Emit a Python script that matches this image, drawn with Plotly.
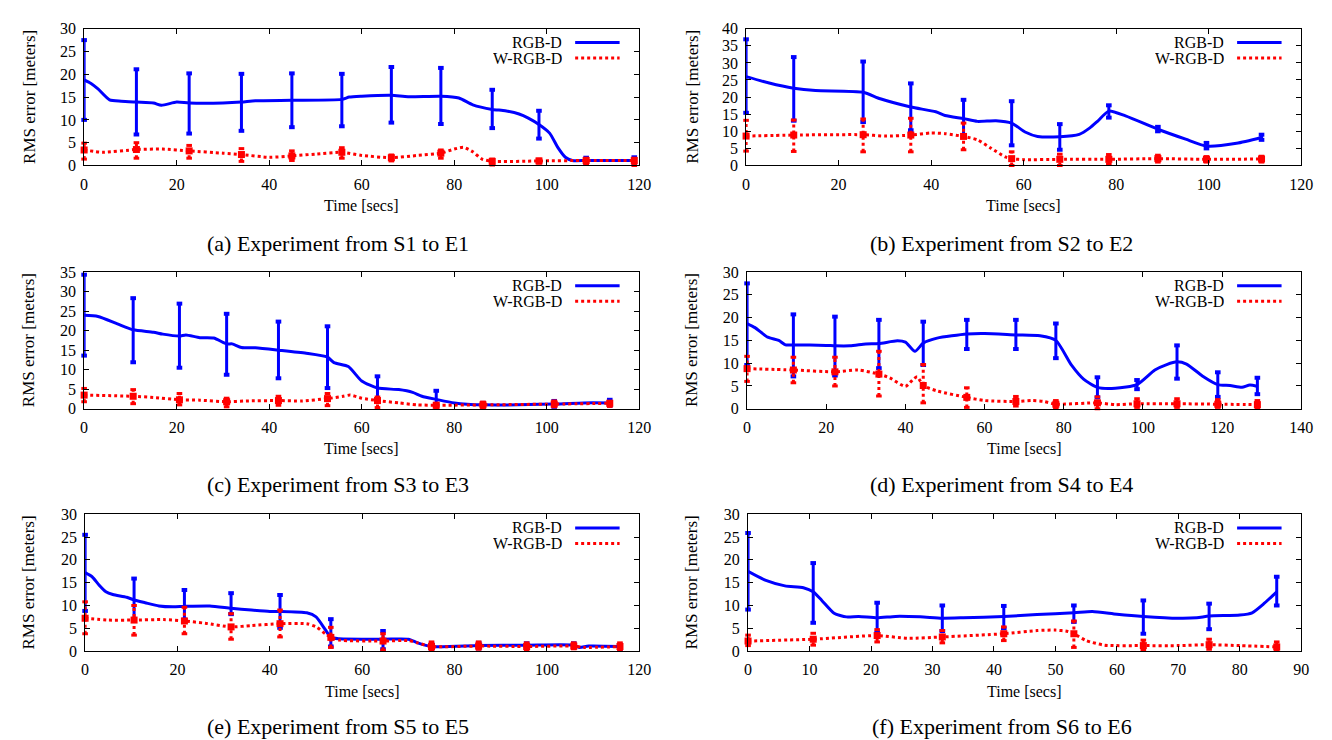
import plotly.graph_objects as go

# ---------------- data ----------------
# (a) S1 -> E1
A_T_BLUE = [0, 1.5, 3, 5.5, 8, 11.3, 15, 16.7, 20, 22.7, 30, 34, 37, 44.9, 55.7, 57.3, 60, 66.4, 70, 77.1, 81, 84, 88.2, 91, 94, 96, 98.3, 100.6, 102.4, 104, 105.5, 108.5, 118.9]
A_BLUE = [18.8, 18, 16.8, 14.4, 14.1, 13.9, 13.7, 13.2, 13.9, 13.7, 13.7, 13.9, 14.2, 14.3, 14.5, 15, 15.2, 15.4, 15.1, 15.2, 14.8, 13.3, 12.3, 12, 11.3, 10.4, 9, 7.1, 3.9, 1.8, 1.1, 1.1, 1.1]
A_T_RED = [0, 4, 11.3, 17, 22.7, 30, 34, 40, 44.9, 50, 55.7, 60, 66.4, 72, 77.1, 80, 82, 84, 86, 88.2, 98.3, 108.5, 118.9]
A_RED = [3.4, 2.9, 3.5, 3.6, 3.2, 2.7, 2.4, 1.8, 2.1, 2.5, 2.9, 2.2, 1.7, 2.2, 2.7, 3.6, 4.0, 3.0, 1.4, 0.9, 1.0, 1.1, 1.1]
A_T_ERR = [0, 11.3, 22.7, 34, 44.9, 55.7, 66.4, 77.1, 88.2, 98.3, 108.5, 118.9]
A_BLUE_HI = [27.5, 21.1, 20.2, 20.1, 20.2, 20.1, 21.6, 21.4, 16.6, 12.0, 1.7, 1.8]
A_BLUE_LO = [10.0, 6.8, 7.0, 7.6, 8.4, 8.6, 9.4, 9.1, 8.2, 5.9, 0.5, 0.3]
A_RED_MID = [3.4, 3.5, 3.2, 2.4, 2.1, 2.9, 1.7, 2.7, 0.9, 1.0, 1.1, 1.1]
A_RED_HI = [4.9, 5.0, 4.4, 3.7, 3.2, 3.9, 2.3, 3.4, 1.4, 1.4, 1.6, 1.6]
A_RED_LO = [1.4, 1.6, 1.6, 0.9, 1.1, 1.6, 1.0, 1.6, 0.1, 0.5, 0.3, 0.0]

# (b) S2 -> E2
B_T_BLUE = [0, 5, 10.3, 15, 25.3, 29, 35.6, 41, 43, 47, 50, 54, 57.4, 60.3, 63, 67.8, 72, 74.3, 76, 78.4, 82, 89, 95, 99.5, 106, 111.4]
B_BLUE = [26, 24.1, 22.6, 21.9, 21.4, 19.5, 17.1, 15.7, 14.6, 13.7, 12.9, 13.1, 12.4, 9.8, 8.5, 8.4, 9.1, 11, 13, 15.9, 14.5, 10.6, 7.7, 5.7, 6.5, 8.2]
B_T_RED = [0, 10.3, 25.3, 30, 35.6, 40, 43, 47, 50, 53, 56, 57.4, 60, 67.8, 78.4, 89, 99.5, 111.4]
B_RED = [8.6, 8.9, 9.0, 8.6, 8.9, 9.5, 9.3, 8.5, 7.5, 5.0, 2.5, 2.0, 1.7, 1.8, 1.8, 2.0, 1.8, 1.9]
B_T_ERR = [0, 10.3, 25.3, 35.6, 47, 57.4, 67.8, 78.4, 89, 99.5, 111.4]
B_BLUE_HI = [36.9, 31.7, 30.4, 24.0, 19.2, 18.8, 12.1, 17.6, 11.3, 6.6, 9.0]
B_BLUE_LO = [15.4, 13.1, 12.7, 10.3, 8.4, 5.9, 4.6, 14.0, 10.0, 5.0, 7.5]
B_RED_MID = [8.6, 8.9, 9.0, 8.9, 8.5, 2.0, 1.8, 1.8, 2.0, 1.8, 1.9]
B_RED_HI = [13.2, 13.3, 13.6, 13.8, 12.4, 4.0, 3.3, 3.2, 3.0, 2.6, 2.7]
B_RED_LO = [4.2, 4.1, 4.0, 4.0, 4.6, 0.0, 0.0, 0.5, 1.0, 1.0, 1.0]

# (c) S3 -> E3
C_T_BLUE = [0, 3, 7.2, 10.6, 15, 17, 20.6, 22, 25, 28, 30.8, 32, 34, 37, 42, 48, 52.6, 54, 57.1, 60, 63.4, 68, 71, 73, 76.1, 80, 86.2, 101.6, 108, 113.6]
C_BLUE = [23.9, 23.6, 21.7, 20.2, 19.6, 19.1, 18.6, 18.9, 18.2, 18.1, 16.6, 16.6, 15.7, 15.6, 15.0, 14.2, 13.2, 11.8, 10.8, 7.1, 5.3, 4.9, 4.2, 3.2, 2.4, 1.5, 1.0, 1.2, 1.5, 1.5]
C_T_RED = [0, 10.6, 15, 20.6, 25, 30.8, 35, 42, 47, 52.6, 56, 57.5, 60, 63.4, 68, 72, 76.1, 86.2, 101.6, 113.6]
C_RED = [3.5, 3.2, 2.9, 2.3, 2.2, 1.8, 2.0, 2.1, 2.0, 2.6, 3.2, 3.5, 2.7, 2.1, 1.5, 1.0, 0.9, 1.0, 1.2, 1.4]
C_T_ERR = [0, 10.6, 20.6, 30.8, 42, 52.6, 63.4, 76.1, 86.2, 101.6, 113.6]
C_BLUE_HI = [34.3, 28.3, 26.9, 24.3, 22.3, 21.1, 8.3, 4.6, 1.5, 2.0, 2.3]
C_BLUE_LO = [13.6, 11.9, 10.5, 8.7, 7.8, 5.3, 2.5, 0.8, 0.5, 0.5, 0.8]
C_RED_MID = [3.5, 3.2, 2.3, 1.8, 2.1, 2.6, 2.1, 0.9, 1.0, 1.2, 1.4]
C_RED_HI = [5.2, 4.9, 3.9, 2.7, 3.2, 3.9, 3.0, 1.4, 1.7, 2.0, 1.9]
C_RED_LO = [1.8, 1.3, 1.0, 0.5, 0.9, 0.8, 0.3, 0.2, 0.3, 0.5, 0.6]

# (d) S4 -> E4
D_T_BLUE = [0, 2, 5.2, 8, 9.7, 11.7, 20, 22.2, 26, 30, 33.3, 38, 40, 42.4, 44.5, 48, 55.5, 60, 67.9, 74, 78, 82, 85, 88.5, 93, 98.5, 103, 106, 108.6, 111, 115, 118.9, 122, 125, 127, 128.9]
D_BLUE = [18.7, 17.8, 15.7, 15.0, 14.0, 14.0, 13.9, 13.8, 13.8, 14.2, 14.3, 14.9, 14.6, 12.6, 14.4, 15.5, 16.4, 16.5, 16.2, 16.0, 15.0, 9.5, 6.5, 4.7, 4.5, 5.3, 8.5, 9.7, 10.3, 9.8, 7.2, 5.3, 5.1, 4.7, 5.2, 4.9]
D_T_RED = [0, 11.7, 22.2, 28, 33.3, 36, 40, 42, 43, 44.5, 48, 55.5, 60, 67.9, 72, 75, 78, 88.5, 93, 98.5, 108.6, 118.9, 128.9]
D_RED = [8.8, 8.5, 8.1, 8.5, 7.6, 6.8, 4.9, 6.5, 7.0, 5.1, 3.9, 2.5, 1.8, 1.6, 1.8, 1.6, 1.0, 1.3, 0.9, 1.1, 1.1, 1.0, 0.9]
D_T_ERR = [0, 11.7, 22.2, 33.3, 44.5, 55.5, 67.9, 78, 88.5, 98.5, 108.6, 118.9, 128.9]
D_BLUE_HI = [27.5, 20.7, 20.2, 19.5, 19.1, 19.5, 19.5, 18.7, 6.9, 6.3, 13.9, 8.0, 6.8]
D_BLUE_LO = [9.6, 7.1, 7.3, 8.9, 9.6, 13.1, 13.1, 11.1, 2.5, 4.3, 6.6, 2.6, 3.2]
D_RED_MID = [8.8, 8.5, 8.1, 7.6, 5.1, 2.5, 1.6, 1.0, 1.3, 1.1, 1.1, 1.0, 0.9]
D_RED_HI = [11.5, 11.3, 11.3, 12.6, 9.7, 4.6, 2.7, 1.8, 2.6, 2.2, 2.2, 2.0, 1.8]
D_RED_LO = [6.0, 5.7, 5.0, 2.8, 1.3, 0.3, 0.6, 0.2, 0.0, 0.3, 0.3, 0.3, 0.2]

# (e) S5 -> E5
E_T_BLUE = [0, 1.5, 3, 4.5, 6, 9, 10.6, 13, 16, 19, 21.5, 27, 31.6, 36, 40, 42.2, 48, 50, 52, 53.2, 55, 64.5, 70, 72, 75, 85.2, 95.6, 105.8, 107, 109, 115.8]
E_BLUE = [17.2, 16.3, 14.5, 13.0, 12.4, 11.8, 11.2, 10.6, 9.9, 9.7, 9.8, 9.9, 9.4, 9.0, 8.7, 8.7, 8.4, 7.5, 4.7, 3.0, 2.7, 2.6, 2.6, 1.8, 1.0, 1.2, 1.3, 1.3, 0.8, 1.1, 1.0]
E_T_RED = [0, 5, 10.6, 17, 21.5, 26, 31.6, 36, 42.2, 48, 50, 52, 53.2, 55, 64.5, 70, 72, 75, 85.2, 95.6, 105.8, 108, 115.8]
E_RED = [7.2, 6.8, 6.8, 6.9, 6.6, 6.1, 5.3, 5.6, 6.0, 6.0, 5.3, 3.8, 3.0, 2.4, 2.2, 2.3, 1.8, 1.0, 1.1, 1.0, 1.1, 0.8, 1.0]
E_T_ERR = [0, 10.6, 21.5, 31.6, 42.2, 53.2, 64.5, 75, 85.2, 95.6, 105.8, 115.8]
E_BLUE_HI = [25.5, 15.9, 13.4, 12.7, 12.3, 7.0, 4.4, 1.6, 1.8, 1.7, 1.7, 1.4]
E_BLUE_LO = [8.8, 6.6, 6.9, 8.1, 5.1, 1.0, 0.4, 0.5, 0.6, 0.7, 0.7, 0.5]
E_RED_MID = [7.2, 6.8, 6.6, 5.3, 6.0, 3.0, 2.2, 1.0, 1.1, 1.0, 1.1, 1.0]
E_RED_HI = [10.8, 10.0, 9.6, 8.2, 9.0, 5.2, 3.8, 2.0, 2.0, 1.8, 1.8, 1.8]
E_RED_LO = [3.8, 3.5, 3.8, 2.6, 3.1, 0.8, 0.2, 0.2, 0.4, 0.3, 0.5, 0.3]

# (f) S6 -> E6
F_T_BLUE = [0, 2.9, 6, 9, 10.6, 12, 14, 16, 18, 21, 24, 28, 31.6, 35, 41.6, 47, 53, 56, 60, 64.3, 70, 73, 75, 80, 82, 84, 86]
F_BLUE = [17.5, 15.5, 14.3, 13.9, 13.0, 11.1, 8.3, 7.5, 7.6, 7.3, 7.6, 7.5, 7.2, 7.3, 7.6, 8.0, 8.4, 8.7, 8.1, 7.6, 7.2, 7.3, 7.7, 7.9, 8.4, 10.5, 13.0]
F_T_RED = [0, 10.6, 21, 26, 31.6, 41.6, 47, 50, 52, 53, 55, 58, 64.3, 70, 75, 80, 86]
F_RED = [2.2, 2.6, 3.4, 2.8, 3.1, 3.8, 4.5, 4.6, 4.3, 3.8, 2.3, 1.3, 1.2, 1.2, 1.4, 1.2, 0.9]
F_T_ERR = [0, 10.6, 21, 31.6, 41.6, 53, 64.3, 75, 86]
F_BLUE_HI = [25.9, 19.3, 10.6, 10.0, 9.9, 10.0, 11.1, 10.4, 16.3]
F_BLUE_LO = [9.1, 6.2, 4.0, 4.4, 5.0, 6.4, 3.8, 4.8, 10.0]
F_RED_MID = [2.2, 2.6, 3.4, 3.1, 3.8, 3.8, 1.2, 1.4, 0.9]
F_RED_HI = [3.5, 3.9, 4.7, 4.5, 5.3, 6.6, 2.4, 2.6, 2.0]
F_RED_LO = [1.2, 1.3, 2.0, 1.8, 2.3, 0.8, 0.3, 0.4, 0.2]

CAPTIONS = ["(a) Experiment from S1 to E1", "(b) Experiment from S2 to E2",
            "(c) Experiment from S3 to E3", "(d) Experiment from S4 to E4",
            "(e) Experiment from S5 to E5", "(f) Experiment from S6 to E6"]
SERIES_NAMES = ["RGB-D", "W-RGB-D"]
X_TITLE = "Time [secs]"
Y_TITLE = "RMS error [meters]"

PANELS = [
    dict(tb=A_T_BLUE, b=A_BLUE, tr=A_T_RED, r=A_RED, te=A_T_ERR, bh=A_BLUE_HI, bl=A_BLUE_LO, rm=A_RED_MID, rh=A_RED_HI, rl=A_RED_LO, xmax=120, ymax=30, xdt=20),
    dict(tb=B_T_BLUE, b=B_BLUE, tr=B_T_RED, r=B_RED, te=B_T_ERR, bh=B_BLUE_HI, bl=B_BLUE_LO, rm=B_RED_MID, rh=B_RED_HI, rl=B_RED_LO, xmax=120, ymax=40, xdt=20),
    dict(tb=C_T_BLUE, b=C_BLUE, tr=C_T_RED, r=C_RED, te=C_T_ERR, bh=C_BLUE_HI, bl=C_BLUE_LO, rm=C_RED_MID, rh=C_RED_HI, rl=C_RED_LO, xmax=120, ymax=35, xdt=20),
    dict(tb=D_T_BLUE, b=D_BLUE, tr=D_T_RED, r=D_RED, te=D_T_ERR, bh=D_BLUE_HI, bl=D_BLUE_LO, rm=D_RED_MID, rh=D_RED_HI, rl=D_RED_LO, xmax=140, ymax=30, xdt=20),
    dict(tb=E_T_BLUE, b=E_BLUE, tr=E_T_RED, r=E_RED, te=E_T_ERR, bh=E_BLUE_HI, bl=E_BLUE_LO, rm=E_RED_MID, rh=E_RED_HI, rl=E_RED_LO, xmax=120, ymax=30, xdt=20),
    dict(tb=F_T_BLUE, b=F_BLUE, tr=F_T_RED, r=F_RED, te=F_T_ERR, bh=F_BLUE_HI, bl=F_BLUE_LO, rm=F_RED_MID, rh=F_RED_HI, rl=F_RED_LO, xmax=90, ymax=30, xdt=10),
]

# ---------------- layout geometry (pixels) ----------------
W, H = 1332, 740
BOXES = [  # left, right, top, bottom
    (73, 635, 13, 153), (743, 1305, 13, 153),
    (73, 635, 262, 402), (744, 1305, 262, 402),
    (74, 635, 510, 650), (745, 1305, 510, 650),
]
CAPTION_Y = [233, 233, 480, 480, 727, 727]
CAPTION_X = [330, 1002, 330, 1002, 330, 1002]
YTITLE_X = [17, 688, 17, 688, 17, 688]

BLUE = "#0000ff"
RED = "#ff0000"
FONT = "Liberation Serif, Times New Roman, serif"


def fx(px):
    return px / W


def fy(py):
    return 1 - py / H


def segs(ts, lo, hi):
    xs, ys = [], []
    for t, a, b in zip(ts, lo, hi):
        xs += [t, t, None]
        ys += [a, b, None]
    return xs, ys


fig = go.Figure()
annotations = []
shapes = []
layout = {}

for i, p in enumerate(PANELS):
    n = "" if i == 0 else str(i + 1)
    xa, ya = "x" + n, "y" + n
    l, r, t, b = BOXES[i]
    # blue line
    fig.add_trace(go.Scatter(x=p["tb"], y=p["b"], xaxis=xa, yaxis=ya, mode="lines",
                             line=dict(color=BLUE, width=3, shape="spline", smoothing=0.6),
                             showlegend=False, hoverinfo="skip"))
    # blue error bars
    ex, ey = segs(p["te"], p["bl"], p["bh"])
    fig.add_trace(go.Scatter(x=ex, y=ey, xaxis=xa, yaxis=ya, mode="lines",
                             line=dict(color=BLUE, width=3), cliponaxis=False,
                             showlegend=False, hoverinfo="skip"))
    fig.add_trace(go.Scatter(x=p["te"] + p["te"], y=p["bl"] + p["bh"], xaxis=xa, yaxis=ya,
                             mode="markers", cliponaxis=False,
                             marker=dict(symbol="line-ew", size=4, line=dict(color=BLUE, width=4)),
                             showlegend=False, hoverinfo="skip"))
    # red line
    fig.add_trace(go.Scatter(x=p["tr"], y=p["r"], xaxis=xa, yaxis=ya, mode="lines",
                             line=dict(color=RED, width=3, dash="dot", shape="spline", smoothing=0.6),
                             showlegend=False, hoverinfo="skip"))
    # red error bars
    ex, ey = segs(p["te"], p["rl"], p["rh"])
    fig.add_trace(go.Scatter(x=ex, y=ey, xaxis=xa, yaxis=ya, mode="lines",
                             line=dict(color=RED, width=3, dash="dot"), cliponaxis=False,
                             showlegend=False, hoverinfo="skip"))
    fig.add_trace(go.Scatter(x=p["te"] + p["te"], y=p["rl"] + p["rh"], xaxis=xa, yaxis=ya,
                             mode="markers", cliponaxis=False,
                             marker=dict(symbol="line-ew", size=4, line=dict(color=RED, width=3)),
                             showlegend=False, hoverinfo="skip"))
    fig.add_trace(go.Scatter(x=p["te"], y=p["rm"], xaxis=xa, yaxis=ya,
                             mode="markers", cliponaxis=False,
                             marker=dict(symbol="square", size=7, color=RED),
                             showlegend=False, hoverinfo="skip"))

    axcommon = dict(showline=True, linecolor="black", linewidth=1, mirror="allticks",
                    ticks="inside", ticklen=5, tickcolor="black", showgrid=False, zeroline=False,
                    tickfont=dict(family=FONT, size=16, color="black"), fixedrange=True)
    layout["xaxis" + n] = dict(axcommon, domain=[fx(l), fx(r)], range=[0, p["xmax"]],
                               dtick=p["xdt"], tick0=0, anchor=ya, ticklabelstandoff=4)
    layout["yaxis" + n] = dict(axcommon, domain=[fy(b), fy(t)], range=[0, p["ymax"]],
                               dtick=5, tick0=0, anchor=xa, ticklabelstandoff=4)

    # axis titles
    annotations.append(dict(text=X_TITLE, x=fx((l + r) / 2), y=fy(b + 41), xref="paper", yref="paper",
                            showarrow=False, font=dict(family=FONT, size=16, color="black"),
                            xanchor="center", yanchor="middle"))
    annotations.append(dict(text=Y_TITLE, x=fx(YTITLE_X[i]), y=fy((t + b) / 2), xref="paper", yref="paper",
                            showarrow=False, textangle=-90, font=dict(family=FONT, size=17, color="black"),
                            xanchor="center", yanchor="middle"))
    # caption
    annotations.append(dict(text=CAPTIONS[i], x=fx(CAPTION_X[i]), y=fy(CAPTION_Y[i]), xref="paper", yref="paper",
                            showarrow=False, font=dict(family=FONT, size=22, color="black"),
                            xanchor="center", yanchor="middle"))
    # legend (text, then sample line to its right)
    for k, (name, col, dash) in enumerate([(SERIES_NAMES[0], BLUE, "solid"), (SERIES_NAMES[1], RED, "dot")]):
        yy = t + 14 + 16 * k
        annotations.append(dict(text=name, x=fx(r - 77), y=fy(yy), xref="paper", yref="paper",
                                showarrow=False, font=dict(family=FONT, size=16, color="black"),
                                height=15, borderpad=0, valign="middle",
                                xanchor="right", yanchor="middle"))
        shapes.append(dict(type="line", xref="paper", yref="paper",
                           x0=fx(r - 65), x1=fx(r - 20), y0=fy(yy), y1=fy(yy),
                           line=dict(color=col, width=3, dash=dash)))

fig.update_layout(**layout)
fig.update_layout(width=W, height=H, autosize=False, margin=dict(l=0, r=0, t=0, b=0),
                  paper_bgcolor="white", plot_bgcolor="white",
                  annotations=annotations, shapes=shapes, showlegend=False,
                  font=dict(family=FONT, color="black"))

fig.write_html("out.html")
